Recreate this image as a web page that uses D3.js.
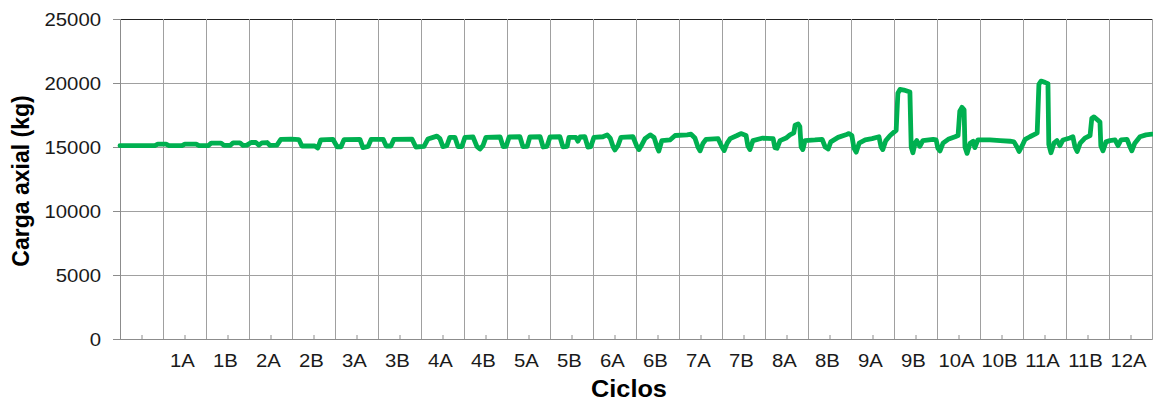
<!DOCTYPE html>
<html>
<head>
<meta charset="utf-8">
<script src="https://cdn.jsdelivr.net/npm/d3@7"></script>
<style>
    body { margin: 0; background: #fff; }
    text { font-family: "Liberation Sans", Arial, sans-serif; fill: #1a1a1a; }
</style>
</head>
<body>
<svg width="1153" height="402"></svg>
<script>
// ciclos (categorias del eje x), el primero sin etiqueta
const ciclos = ["", "1A", "1B", "2A", "2B", "3A", "3B", "4A", "4B", "5A", "5B", "6A", "6B",
    "7A", "7B", "8A", "8B", "9A", "9B", "10A", "10B", "11A", "11B", "12A"];
const cargaTicks = [0, 5000, 10000, 15000, 20000, 25000];

// posicion en ciclos y carga axial (kg)
const posicion = [
    0.00, 0.81, 0.88,
    1.07, 1.14, 1.44, 1.51, 1.77, 1.84,
    2.05, 2.12, 2.35, 2.42, 2.56, 2.63, 2.79, 2.86, 2.95,
    3.05, 3.16, 3.23, 3.30, 3.42, 3.49, 3.65, 3.74, 3.98,
    4.16, 4.23, 4.53, 4.60, 4.67, 4.95,
    5.05, 5.14, 5.21, 5.58, 5.65, 5.77, 5.84,
    6.12, 6.19, 6.30, 6.37, 6.79, 6.88,
    7.07, 7.16, 7.28, 7.37, 7.44, 7.51, 7.60, 7.67, 7.79, 7.86, 7.95,
    8.02, 8.21, 8.30, 8.37, 8.44, 8.51, 8.84, 8.91, 8.98,
    9.05, 9.30, 9.37, 9.47, 9.53, 9.77, 9.84, 9.93,
    10.00, 10.23, 10.30, 10.40, 10.44, 10.60, 10.65, 10.70, 10.81, 10.88, 10.95,
    11.02, 11.23, 11.33, 11.40, 11.47, 11.51, 11.58, 11.65, 11.93,
    12.02, 12.07, 12.14, 12.21, 12.33, 12.42, 12.49, 12.53, 12.60, 12.79, 12.91,
    13.19, 13.28, 13.37, 13.44, 13.49, 13.56, 13.63, 13.91,
    14.00, 14.05, 14.12, 14.19, 14.35, 14.44, 14.56, 14.60, 14.65, 14.72, 14.95,
    15.05, 15.19, 15.23, 15.28, 15.35, 15.49, 15.58, 15.67, 15.70, 15.77, 15.81, 15.84, 15.88, 15.93,
    16.16, 16.33, 16.40, 16.47, 16.53, 16.70, 16.88, 16.95,
    17.02, 17.07, 17.12, 17.19, 17.33, 17.49, 17.65, 17.70, 17.74, 17.81, 17.91, 17.98,
    18.05, 18.09, 18.14, 18.23, 18.37, 18.40, 18.44, 18.49, 18.53, 18.60, 18.67, 18.91, 18.98,
    19.02, 19.07, 19.14, 19.26, 19.42, 19.49, 19.53, 19.58, 19.63, 19.65, 19.70, 19.77, 19.84, 19.88, 19.95,
    20.23, 20.47, 20.70, 20.79, 20.86, 20.91, 20.98,
    21.05, 21.16, 21.28, 21.33, 21.37, 21.42, 21.51, 21.58, 21.60, 21.65, 21.72, 21.79, 21.86, 21.93,
    22.09, 22.16, 22.21, 22.26, 22.33, 22.44, 22.56, 22.60, 22.65, 22.74, 22.79, 22.81, 22.86, 22.93,
    23.02, 23.14, 23.21, 23.28, 23.42, 23.49, 23.53, 23.60, 23.72, 23.86, 24.00
];
const carga = [
    15100, 15100, 15220,
    15220, 15100, 15100, 15230, 15230, 15100,
    15100, 15300, 15300, 15120, 15120, 15320, 15320, 15130, 15150,
    15350, 15350, 15150, 15320, 15350, 15120, 15150, 15600, 15620,
    15580, 15080, 15080, 14920, 15550, 15600,
    15020, 15020, 15580, 15600, 14950, 15050, 15600,
    15600, 15080, 15080, 15600, 15620, 15000,
    15050, 15620, 15750, 15850, 15650, 15030, 15100, 15750, 15750, 15030, 15030,
    15750, 15780, 15050, 14840, 15100, 15750, 15780, 15030, 15050,
    15780, 15800, 15030, 15050, 15780, 15800, 15000, 15050,
    15780, 15800, 15020, 15050, 15750, 15750, 15450, 15780, 15800, 15000, 15030,
    15750, 15800, 15950, 15700, 15000, 14770, 15100, 15750, 15800,
    15050, 14800, 15200, 15650, 15950, 15750, 15000, 14690, 15500, 15550, 15900,
    15950, 16000, 15700, 15000, 14700, 15300, 15600, 15650,
    15000, 14720, 15300, 15650, 15900, 16050, 15900, 15100, 14800, 15500, 15700,
    15680, 15650, 14950, 14900, 15500, 15700, 15950, 16100, 16700, 16800, 16600, 15000, 14800, 15500,
    15550, 15600, 15000, 14850, 15400, 15750, 15950, 16050,
    15900, 14900, 14600, 15300, 15550, 15650, 15800, 15000, 14800, 15500, 15900, 16100,
    16300, 19200, 19500, 19450, 19300, 15000, 14550, 15300, 15500, 15050, 15500, 15600, 15550,
    14900, 14700, 15300, 15600, 15800, 15900, 17800, 18100, 17900, 15000, 14500, 15300, 15450, 14950, 15550,
    15550, 15500, 15450, 15400, 15000, 14650, 15100,
    15600, 15800, 16000, 16100, 19900, 20150, 20050, 19950, 15200, 14550, 15300, 15500, 15100, 15550,
    15700, 15800, 15000, 14650, 15300, 15700, 15900, 17250, 17350, 17100, 16950, 15100, 14700, 15400,
    15500, 15550, 15100, 15550, 15600, 15000, 14700, 15300, 15800, 15950, 16000
];

let svg = d3.select("svg");
let margin = {top: 19, right: 1, bottom: 63, left: 120},
    width = +svg.attr("width") - margin.left - margin.right,
    height = +svg.attr("height") - margin.top - margin.bottom;

let x = d3.scaleLinear().domain([0, ciclos.length]).range([0, width]);
let y = d3.scaleLinear().domain([0, 25000]).range([height, 0]);

let g = svg.append("g").attr("transform", "translate(" + margin.left + "," + margin.top + ")");

// rejilla horizontal
g.append("g")
    .call(d3.axisLeft(y).tickValues(cargaTicks).tickSize(-width).tickFormat(""))
    .call(a => a.select(".domain").remove())
    .call(a => a.selectAll(".tick line").attr("stroke", "#a0a0a0"))
    .call(a => a.selectAll(".tick").filter(d => d === 25000).select("line").attr("stroke", "#222"));

// rejilla vertical (limites de ciclo)
g.append("g")
    .attr("transform", "translate(0," + height + ")")
    .call(d3.axisBottom(x).tickValues(d3.range(0, ciclos.length + 1)).tickSize(-height).tickFormat(""))
    .call(a => a.select(".domain").attr("stroke", "#8c8c8c"))
    .call(a => a.selectAll(".tick line").attr("stroke", "#a0a0a0"));

// marcas menores en el centro de cada ciclo
g.append("g")
    .attr("transform", "translate(0," + height + ")")
    .call(d3.axisBottom(x).tickValues(d3.range(0.5, ciclos.length, 1)).tickSize(-4).tickFormat(""))
    .call(a => a.select(".domain").remove())
    .call(a => a.selectAll(".tick line").attr("stroke", "#8c8c8c"));

// eje y con marcas hacia fuera
g.append("g")
    .call(d3.axisLeft(y).tickValues(cargaTicks).tickSize(7).tickFormat(""))
    .call(a => a.select(".domain").attr("stroke", "#8c8c8c"))
    .call(a => a.selectAll(".tick line").attr("stroke", "#8c8c8c"));

// etiquetas del eje y
g.append("g").selectAll("text")
    .data(cargaTicks)
    .enter().append("text")
    .attr("transform", d => "translate(-19," + (y(d) + 6.5) + ") scale(1.13,1)")
    .attr("text-anchor", "end")
    .style("font-size", "18px")
    .text(d => d);

// etiquetas de ciclos
g.append("g").selectAll("text")
    .data(ciclos)
    .enter().append("text")
    .attr("transform", (d, i) => "translate(" + (x(i + 0.5) - 2) + "," + (height + 28) + ") scale(1.13,1)")
    .attr("text-anchor", "middle")
    .style("font-size", "18px")
    .text(d => d);

// linea de carga
let datos = posicion.map((p, i) => ({p: p, c: carga[i]}));
g.append("path")
    .datum(datos)
    .attr("fill", "none")
    .attr("stroke", "#00b050")
    .attr("stroke-width", 4.8)
    .attr("stroke-linejoin", "round")
    .attr("stroke-linecap", "round")
    .attr("d", d3.line().x(d => x(d.p)).y(d => y(d.c)));

// titulos
svg.append("text")
    .attr("transform", "translate(29," + (margin.top + 162) + ") rotate(-90)")
    .attr("text-anchor", "middle")
    .style("font-size", "23px")
    .style("font-weight", "bold")
    .style("fill", "#000")
    .text("Carga axial (kg)");

svg.append("text")
    .attr("transform", "translate(629,397) scale(1.1,1)")
    .attr("text-anchor", "middle")
    .style("font-size", "23px")
    .style("font-weight", "bold")
    .style("fill", "#000")
    .text("Ciclos");
</script>
</body>
</html>
